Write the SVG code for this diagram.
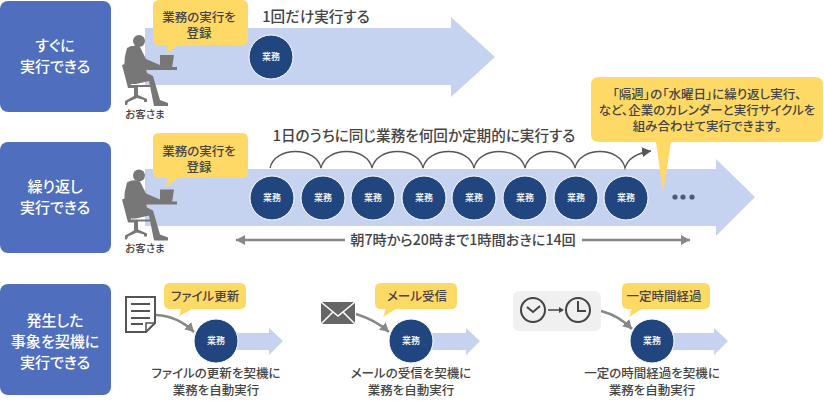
<svg xmlns="http://www.w3.org/2000/svg" width="824" height="415" viewBox="0 0 824 415">
<style>
text{font-family:"Noto Sans CJK JP","Noto Sans",sans-serif;text-anchor:middle;fill:#444;font-weight:500;font-feature-settings:"palt"}
.side{fill:#4f6fbe}
.sideT{fill:#fff;font-size:15px}
.flow{fill:#c5d3f0}
.job{fill:#21457f;stroke:#fff;stroke-width:1}
.jobT{fill:#fff;font-size:9px}
.bub{fill:#ffd966}
.t12{font-size:12.500px}
.b3{font-size:12.500px}
.lab{font-size:12.500px}
.t14{font-size:14.600px}
.t13{font-size:14.200px}
.sm{font-size:10.500px}
.line{fill:none;stroke:#888;stroke-width:2.500}
.arc{fill:none;stroke:#555;stroke-width:1.300}
.p{fill:#777}
.ic{fill:none;stroke:#444;stroke-width:2}
</style>
<defs>
<marker id="gh" markerUnits="userSpaceOnUse" markerWidth="12" markerHeight="12" refX="9" refY="5" orient="auto"><path d="M0 0L9 5L0 10Z" fill="#888"/></marker>
<marker id="dh" markerUnits="userSpaceOnUse" markerWidth="12" markerHeight="12" refX="9" refY="5" orient="auto"><path d="M0 0L9 5L0 10Z" fill="#555"/></marker>
<g id="person">
<circle class="p" cx="139" cy="41" r="6"/>
<path class="p" d="M127 48Q133 44 140 47L146 59L160 65V69H146L147 73L153 76L160 100L168 103V106L154 106L149 81L136 84L128 84Q121 66 127 48Z"/>
<path class="p" d="M122 65L125 64L131 85H150V87H138V95L147 99V102H144V100L137 98L128 102L127 105H125V101L134 96V88H128Z"/>
<path class="p" d="M145 67H177V70H145Z"/>
<path class="p" d="M160 55H174L172 68H160Z"/>
</g>
</defs>

<g id="row1-label"><rect class="side" x="0" y="1" width="111" height="111" rx="8"/><text class="sideT"><tspan x="55" y="51">すぐに</tspan><tspan x="55" y="72">実行できる</tspan></text></g>
<g id="row2-label"><rect class="side" x="0" y="142" width="111" height="111" rx="8"/><text class="sideT"><tspan x="55" y="192">繰り返し</tspan><tspan x="55" y="213">実行できる</tspan></text></g>
<g id="row3-label"><rect class="side" x="0" y="284" width="111" height="111" rx="8"/><text class="sideT"><tspan x="55" y="326">発生した</tspan><tspan x="55" y="347">事象を契機に</tspan><tspan x="55" y="368">実行できる</tspan></text></g>

<g id="flows">
<path class="flow" d="M145 28H451V17L495 57L451 97V85H145Z"/>
<path class="flow" d="M145 169H716V159L755 197L716 236V226H145Z"/>
<path class="flow" d="M237 333H269V328L283 341L269 355V350H237Z"/>
<path class="flow" d="M432 333H466V328L480 341L466 355V350H432Z"/>
<path class="flow" d="M673 333H714V328L728 341L714 355V350H673Z"/>
</g>

<g id="connectors">
<path class="arc" d="M270 168C275 146 316 146 321 168C326 146 367 146 372 168C377 146 418 146 423 168C428 146 469 146 474 168C479 146 520 146 525 168C530 146 570 146 575 168C580 146 620 146 625 168C628 158 637 153 651 151" marker-end="url(#dh)"/>
<path class="line" d="M345 240H236" marker-end="url(#gh)"/>
<path class="line" d="M582 240H690" marker-end="url(#gh)"/>
<path class="line" d="M156 315C172 316 184 322 194 332" marker-end="url(#gh)"/>
<path class="line" d="M356 314C369 318 380 324 389 332" marker-end="url(#gh)"/>
<path class="line" d="M601 311C613 314 624 321 632 329" marker-end="url(#gh)"/>
</g>

<g id="customer1"><use href="#person"/><text class="sm" x="145" y="118">お客さま</text></g>
<g id="customer2"><use href="#person" y="134.500"/><text class="sm" x="145" y="252">お客さま</text></g>

<g id="bubble1"><path class="bub" d="M159 0H242Q248 0 248 6V39Q248 45 242 45H178L166 54L168 45H159Q153 45 153 39V6Q153 0 159 0Z"/><text class="t12"><tspan x="199" y="22">業務の実行を</tspan><tspan x="199" y="38">登録</tspan></text></g>
<g id="bubble2"><path class="bub" d="M159 133H242Q248 133 248 139V172Q248 178 242 178H178L166 187L168 178H159Q153 178 153 172V139Q153 133 159 133Z"/><text class="t12"><tspan x="199" y="156">業務の実行を</tspan><tspan x="199" y="172">登録</tspan></text></g>
<g id="bubble3"><path class="bub" d="M599 77H815Q823 77 823 85V134Q823 142 815 142H671L663 193L656 142H599Q591 142 591 134V85Q591 77 599 77Z"/><text class="b3"><tspan x="707" y="99">「隔週」の「水曜日」に繰り返し実行、</tspan><tspan x="707" y="115">など、企業のカレンダーと実行サイクルを</tspan><tspan x="707" y="131">組み合わせて実行できます。</tspan></text></g>

<g id="job-a"><circle class="job" cx="271" cy="57" r="22"/><text class="jobT" x="271" y="60">業務</text></g>
<g id="job1"><circle class="job" cx="272" cy="198" r="22"/><text class="jobT" x="272" y="201">業務</text></g>
<g id="job2"><circle class="job" cx="323" cy="198" r="22"/><text class="jobT" x="323" y="201">業務</text></g>
<g id="job3"><circle class="job" cx="373" cy="198" r="22"/><text class="jobT" x="373" y="201">業務</text></g>
<g id="job4"><circle class="job" cx="424" cy="198" r="22"/><text class="jobT" x="424" y="201">業務</text></g>
<g id="job5"><circle class="job" cx="474" cy="198" r="22"/><text class="jobT" x="474" y="201">業務</text></g>
<g id="job6"><circle class="job" cx="525" cy="198" r="22"/><text class="jobT" x="525" y="201">業務</text></g>
<g id="job7"><circle class="job" cx="576" cy="198" r="22"/><text class="jobT" x="576" y="201">業務</text></g>
<g id="job8"><circle class="job" cx="626" cy="198" r="22"/><text class="jobT" x="626" y="201">業務</text></g>
<g id="dots" fill="#4a5a78"><circle cx="675" cy="197" r="2.600"/><circle cx="683" cy="197" r="2.600"/><circle cx="692" cy="197" r="2.600"/></g>

<text class="t14" x="316" y="22">1回だけ実行する</text>
<text class="t14" x="424" y="141">1日のうちに同じ業務を何回か定期的に実行する</text>
<text class="t13" x="463" y="245">朝7時から20時まで1時間おきに14回</text>

<g id="file-trigger">
<path fill="#fff" stroke="#555" stroke-width="2" d="M126 297H155V323L146 332H126Z"/>
<path fill="none" stroke="#555" stroke-width="1.500" d="M146 332V323H155"/>
<path fill="none" stroke="#555" stroke-width="2" d="M131 304H150M131 311H150M131 318H150M131 324H143"/>
<path class="bub" d="M170 283H240Q246 283 246 289V303Q246 309 240 309H192L179 316L181 309H170Q164 309 164 303V289Q164 283 170 283Z"/>
<text class="lab" x="205" y="301">ファイル更新</text>
<circle class="job" cx="216" cy="341" r="22"/><text class="jobT" x="216" y="344">業務</text>
<text class="t12"><tspan x="216" y="378">ファイルの更新を契機に</tspan><tspan x="216" y="395">業務を自動実行</tspan></text>
</g>

<g id="mail-trigger">
<rect x="321" y="302" width="34" height="22" fill="#666"/>
<path fill="none" stroke="#fff" stroke-width="1.500" d="M321 302L338 316L355 302M321 324L333 312M355 324L343 312"/>
<path class="bub" d="M381 283H451Q457 283 457 289V303Q457 309 451 309H396L383 317L386 309H381Q375 309 375 303V289Q375 283 381 283Z"/>
<text class="lab" x="417" y="301">メール受信</text>
<circle class="job" cx="411" cy="341" r="22"/><text class="jobT" x="411" y="344">業務</text>
<text class="t12"><tspan x="411" y="378">メールの受信を契機に</tspan><tspan x="411" y="395">業務を自動実行</tspan></text>
</g>

<g id="time-trigger">
<rect x="513" y="291" width="88" height="40" rx="6" fill="#f0f0f0"/>
<circle class="ic" cx="533" cy="310" r="12"/><path class="ic" d="M527 307L533 312L540 306"/>
<circle class="ic" cx="578" cy="310" r="12"/><path class="ic" d="M578 301V311H586"/>
<path fill="#444" d="M548 309.300H559V307L564 310L559 313V310.700H548Z"/>
<path class="bub" d="M628 283H704Q710 283 710 289V303Q710 309 704 309H642L629 317L632 309H628Q622 309 622 303V289Q622 283 628 283Z"/>
<text class="t12" x="664" y="301">一定時間経過</text>
<circle class="job" cx="652" cy="341" r="22"/><text class="jobT" x="652" y="344">業務</text>
<text class="t12"><tspan x="652" y="378">一定の時間経過を契機に</tspan><tspan x="652" y="395">業務を自動実行</tspan></text>
</g>
</svg>
